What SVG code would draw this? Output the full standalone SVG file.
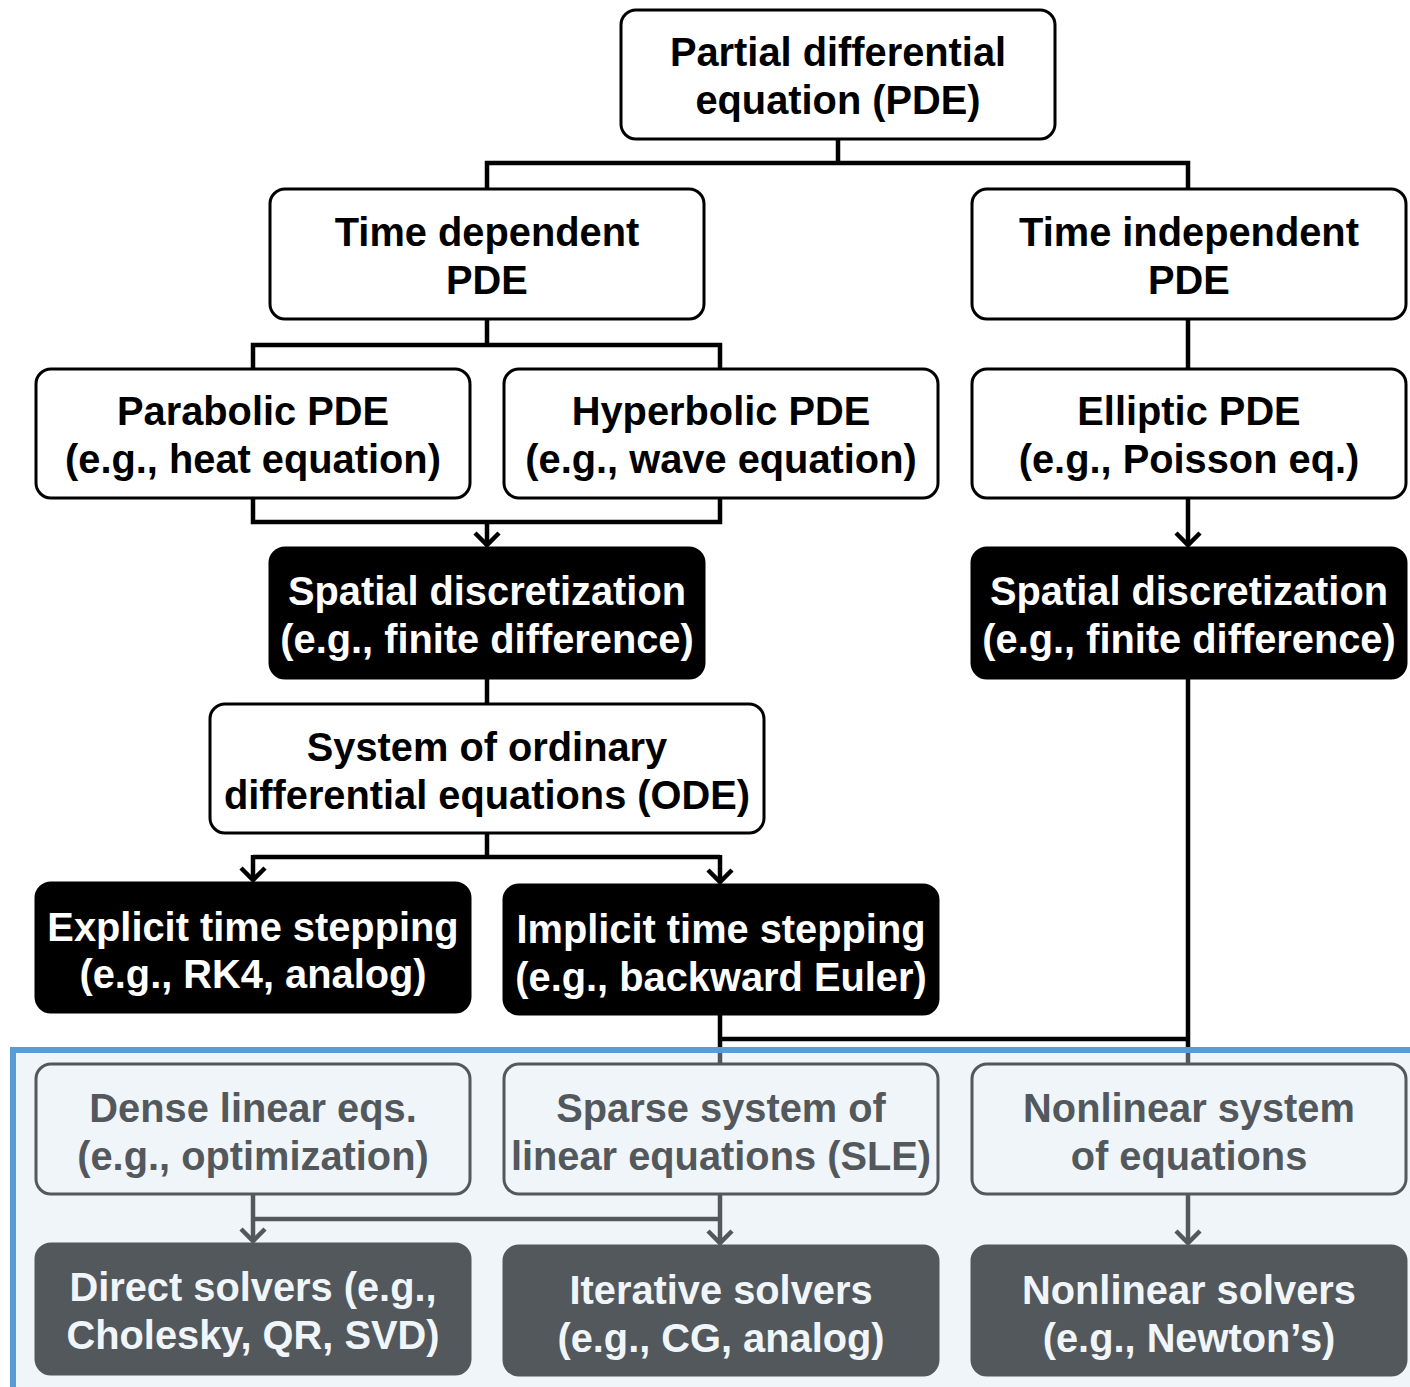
<svg xmlns="http://www.w3.org/2000/svg" width="1410" height="1387" viewBox="0 0 1410 1387">
<style>
.t{font-family:"Liberation Sans",Arial,Helvetica,sans-serif;font-weight:bold;font-size:39.8px;text-anchor:middle}
.w rect{fill:#fff;stroke:#000;stroke-width:3}
.w text{fill:#000}
.b rect{fill:#000;stroke:#000;stroke-width:3}
.b text{fill:#fff}
.g rect{fill:#f0f5fa;stroke:#53585c;stroke-width:3}
.g text{fill:#53585c}
.d rect{fill:#53585c;stroke:#53585c;stroke-width:3}
.d text{fill:#f0f5fa}
.c{fill:none;stroke:#000;stroke-width:4.5}
.cg{fill:none;stroke:#53585c;stroke-width:4.5}
</style>
<defs>
<marker id="ah" viewBox="0 0 20 34" refX="15" refY="17" markerWidth="20" markerHeight="34" markerUnits="userSpaceOnUse" orient="auto">
<polyline points="3,5 15,17 3,29" fill="none" stroke="#000" stroke-width="4.5"/>
</marker>
<marker id="ahg" viewBox="0 0 20 34" refX="15" refY="17" markerWidth="20" markerHeight="34" markerUnits="userSpaceOnUse" orient="auto">
<polyline points="3,5 15,17 3,29" fill="none" stroke="#53585c" stroke-width="4.5"/>
</marker>
</defs>
<rect x="0" y="0" width="1410" height="1387" fill="#fff"/>
<rect id="region" x="13" y="1050" width="1420" height="400" fill="#f0f5fa" stroke="#5b9bd5" stroke-width="6"/>
<g id="connectors">
<path class="c" d="M838,139 V163 M487,189 V163 H1188 V189"/>
<path class="c" d="M487,319 V345 M253,369 V345 H720 V369"/>
<path class="c" d="M1188,319 V369"/>
<path class="c" d="M253,498 V522 H720 V498"/>
<line class="c" x1="487" y1="522" x2="487" y2="545" marker-end="url(#ah)"/>
<line class="c" x1="1188" y1="498" x2="1188" y2="545" marker-end="url(#ah)"/>
<path class="c" d="M487,679 V704"/>
<path class="c" d="M487,833 V857 M253,857 H720"/>
<line class="c" x1="253" y1="855" x2="253" y2="880" marker-end="url(#ah)"/>
<line class="c" x1="720" y1="855" x2="720" y2="882" marker-end="url(#ah)"/>
<path class="c" d="M1188,679 V1047 M720,1015 V1047 M720,1039 H1188"/>
<path class="cg" d="M720,1053 V1064 M1188,1053 V1064"/>
<path class="cg" d="M253,1219 H720"/>
<line class="cg" x1="253" y1="1194" x2="253" y2="1241" marker-end="url(#ahg)"/>
<line class="cg" x1="720" y1="1194" x2="720" y2="1243" marker-end="url(#ahg)"/>
<line class="cg" x1="1188" y1="1194" x2="1188" y2="1243" marker-end="url(#ahg)"/>
</g>
<g id="pde" class="w"><rect x="621" y="10" width="434" height="129" rx="15"/><text class="t" x="838" y="66">Partial differential</text><text class="t" x="838" y="114">equation (PDE)</text></g>
<g id="timedep" class="w"><rect x="270" y="189" width="434" height="130" rx="15"/><text class="t" x="487" y="246">Time dependent</text><text class="t" x="487" y="294">PDE</text></g>
<g id="timeindep" class="w"><rect x="972" y="189" width="434" height="130" rx="15"/><text class="t" x="1189" y="246">Time independent</text><text class="t" x="1189" y="294">PDE</text></g>
<g id="parabolic" class="w"><rect x="36" y="369" width="434" height="129" rx="15"/><text class="t" x="253" y="425">Parabolic PDE</text><text class="t" x="253" y="473">(e.g., heat equation)</text></g>
<g id="hyperbolic" class="w"><rect x="504" y="369" width="434" height="129" rx="15"/><text class="t" x="721" y="425">Hyperbolic PDE</text><text class="t" x="721" y="473">(e.g., wave equation)</text></g>
<g id="elliptic" class="w"><rect x="972" y="369" width="434" height="129" rx="15"/><text class="t" x="1189" y="425">Elliptic PDE</text><text class="t" x="1189" y="473">(e.g., Poisson eq.)</text></g>
<g id="spatial1" class="b"><rect x="270" y="548" width="434" height="130" rx="15"/><text class="t" x="487" y="605">Spatial discretization</text><text class="t" x="487" y="653">(e.g., finite difference)</text></g>
<g id="spatial2" class="b"><rect x="972" y="548" width="434" height="130" rx="15"/><text class="t" x="1189" y="605">Spatial discretization</text><text class="t" x="1189" y="653">(e.g., finite difference)</text></g>
<g id="ode" class="w"><rect x="210" y="704" width="554" height="129" rx="15"/><text class="t" x="487" y="761">System of ordinary</text><text class="t" x="487" y="809">differential equations (ODE)</text></g>
<g id="explicit" class="b"><rect x="36" y="883" width="434" height="129" rx="15"/><text class="t" x="253" y="941">Explicit time stepping</text><text class="t" x="253" y="988">(e.g., RK4, analog)</text></g>
<g id="implicit" class="b"><rect x="504" y="885" width="434" height="129" rx="15"/><text class="t" x="721" y="943">Implicit time stepping</text><text class="t" x="721" y="991">(e.g., backward Euler)</text></g>
<g id="dense" class="g"><rect x="36" y="1064" width="434" height="130" rx="15"/><text class="t" x="253" y="1122">Dense linear eqs.</text><text class="t" x="253" y="1170">(e.g., optimization)</text></g>
<g id="sparse" class="g"><rect x="504" y="1064" width="434" height="130" rx="15"/><text class="t" x="721" y="1122">Sparse system of</text><text class="t" x="721" y="1170">linear equations (SLE)</text></g>
<g id="nonlinsys" class="g"><rect x="972" y="1064" width="434" height="130" rx="15"/><text class="t" x="1189" y="1122">Nonlinear system</text><text class="t" x="1189" y="1170">of equations</text></g>
<g id="direct" class="d"><rect x="36" y="1244" width="434" height="130" rx="15"/><text class="t" x="253" y="1301">Direct solvers (e.g.,</text><text class="t" x="253" y="1349">Cholesky, QR, SVD)</text></g>
<g id="iterative" class="d"><rect x="504" y="1246" width="434" height="129" rx="15"/><text class="t" x="721" y="1304">Iterative solvers</text><text class="t" x="721" y="1352">(e.g., CG, analog)</text></g>
<g id="nonlinsolv" class="d"><rect x="972" y="1246" width="434" height="129" rx="15"/><text class="t" x="1189" y="1304">Nonlinear solvers</text><text class="t" x="1189" y="1352">(e.g., Newton’s)</text></g>
</svg>
